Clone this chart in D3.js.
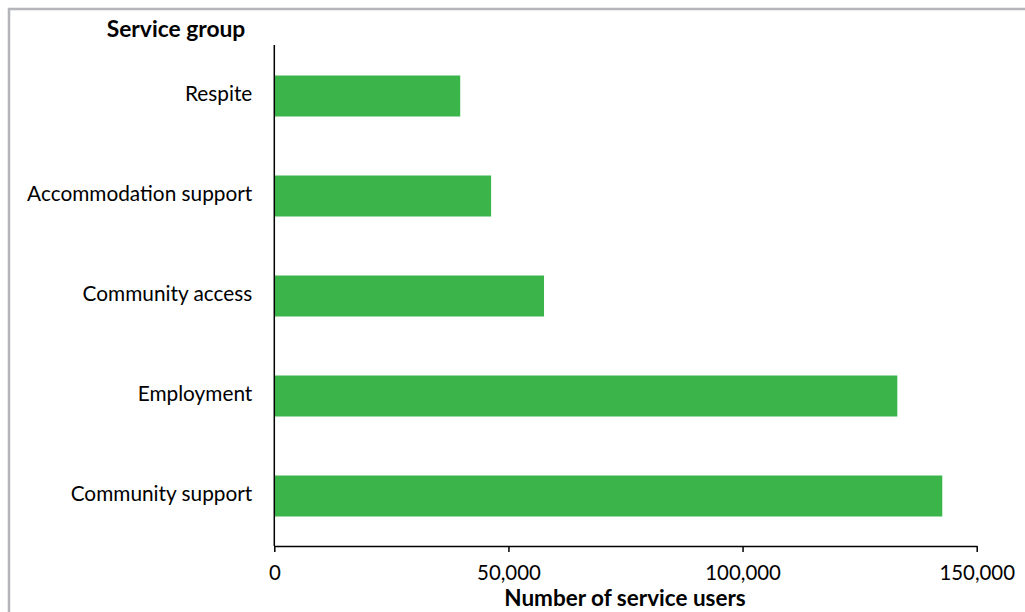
<!DOCTYPE html>
<html><head><meta charset="utf-8">
<script src="https://cdn.jsdelivr.net/npm/d3@7"></script>
<style>
html,body{margin:0;padding:0;background:#fff;}
svg{display:block;}
text{font-family:Lato,"Open Sans",sans-serif;fill:#000;}
</style></head>
<body>
<svg id="chart" width="1025" height="612"></svg>
<script>
const categories = ["Respite","Accommodation support","Community access","Employment","Community support"];
const values = [39700, 46300, 57600, 133050, 142650];
const xTicks = [0, 50000, 100000, 150000];
const yTitle = "Service group";
const xTitle = "Number of service users";

const svg = d3.select("#chart");
svg.append("rect").attr("x",9).attr("y",9).attr("width",1030).attr("height",620)
  .attr("fill","none").attr("stroke","#b4b4bb").attr("stroke-width",2.5);

const x = d3.scaleLinear().domain([0,150000]).range([274.3,976.7]);
const y = d3.scaleBand().domain(categories).range([46,546]).paddingInner(0.59).paddingOuter(0.295);

svg.selectAll("rect.bar").data(values).join("rect").attr("class","bar")
  .attr("x",x(0)).attr("y",(d,i)=>y(categories[i]))
  .attr("width",d=>x(d)-x(0)).attr("height",y.bandwidth())
  .attr("fill","#3bb54a");

const xa = svg.append("g").attr("transform","translate(0,546)")
  .call(d3.axisBottom(x).tickValues(xTicks).tickFormat(d3.format(",")).tickSize(6).tickSizeOuter(0));
xa.select(".domain").attr("stroke","#000").attr("stroke-width",1.5);
xa.selectAll(".tick line").attr("stroke","#000").attr("stroke-width",1.5);
xa.selectAll(".tick text").attr("font-size",20.4).attr("font-family","Lato,'Open Sans',sans-serif").attr("dy",null).attr("y",29).attr("dominant-baseline","middle");

const ya = svg.append("g").attr("transform","translate(274.3,0)")
  .call(d3.axisLeft(y).tickSize(0).tickSizeOuter(0));
ya.select(".domain").remove();
svg.append("line").attr("x1",274.3).attr("x2",274.3).attr("y1",45).attr("y2",546).attr("stroke","#000").attr("stroke-width",1.5);
ya.selectAll(".tick text").attr("font-size",20.8).attr("font-family","Lato,'Open Sans',sans-serif").attr("x",-22).attr("dy",null).attr("dominant-baseline","middle");

svg.append("text").attr("x",176).attr("y",31).attr("text-anchor","middle").attr("dominant-baseline","middle")
  .attr("font-size",22.8).attr("font-weight","bold").text(yTitle);
svg.append("text").attr("x",625).attr("y",600).attr("text-anchor","middle").attr("dominant-baseline","middle")
  .attr("font-size",22.5).attr("font-weight","bold").text(xTitle);
</script>
</body></html>
